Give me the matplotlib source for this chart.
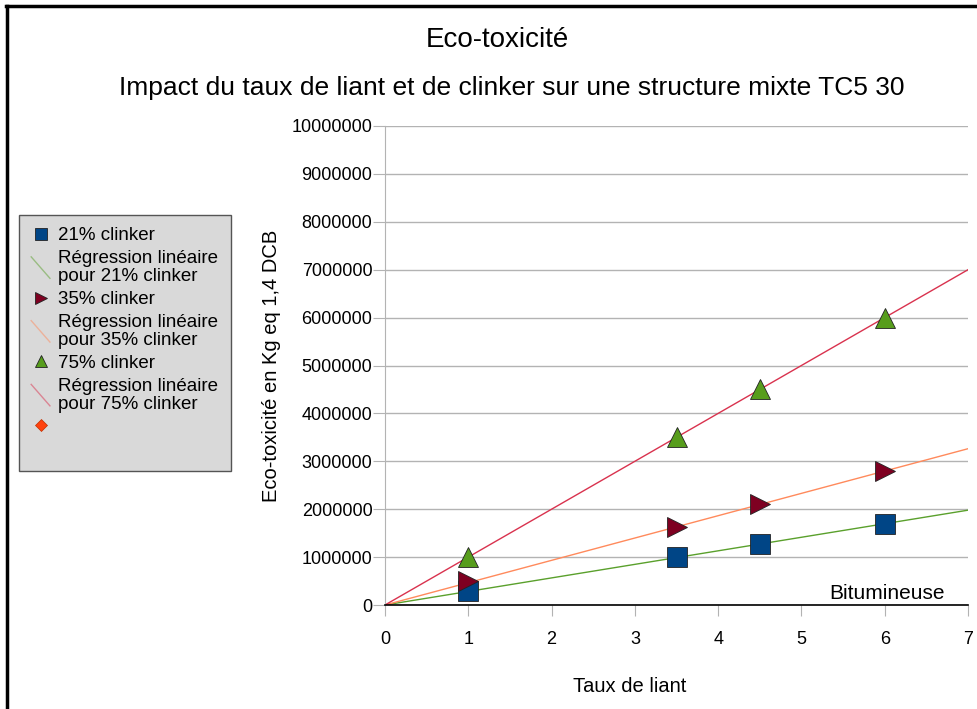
import numpy as np
import matplotlib
matplotlib.use("Agg")
import matplotlib.pyplot as plt
from matplotlib.lines import Line2D
from matplotlib.legend_handler import HandlerBase

plt.rcParams['font.family'] = ['Liberation Sans', 'DejaVu Sans']

# Data
taux_liant = [1, 3.5, 4.5, 6]
clinker_21 = [300000, 1000000, 1270000, 1690000]
clinker_35 = [500000, 1630000, 2100000, 2790000]
clinker_75 = [1000000, 3500000, 4500000, 6000000]
x_ticks = [0, 1, 2, 3, 4, 5, 6, 7]
y_ticks = [0, 1000000, 2000000, 3000000, 4000000, 5000000,
           6000000, 7000000, 8000000, 9000000, 10000000]


# Linear regression forced through the origin
def slope_origin(x, y):
    x = np.asarray(x, float)
    y = np.asarray(y, float)
    return np.sum(x * y) / np.sum(x * x)


# Legend icon: a short diagonal line like the original
class DiagHandler(HandlerBase):
    def create_artists(self, legend, orig_handle, xdescent, ydescent,
                       width, height, fontsize, trans):
        ln = Line2D([-xdescent, width - xdescent],
                    [height - ydescent + 3, -ydescent - 3],
                    color=orig_handle.get_color(), lw=1, alpha=0.5,
                    transform=trans)
        return [ln]


fig = plt.figure(figsize=(9.78, 7.09), dpi=100)
ax = fig.add_axes([385 / 978, 1 - 605 / 709, 583 / 978, 479 / 709])

xs = np.array([0, 7])
series = [
    ("21% clinker", clinker_21, 's', '#004586', '#5aa02c'),
    ("35% clinker", clinker_35, '>', '#7e0021', '#ff8a5c'),
    ("75% clinker", clinker_75, '^', '#579d1c', '#d9324e'),
]

handles = []
labels = []
for name, vals, mk, mcol, lcol in series:
    k = slope_origin(taux_liant, vals)
    reg, = ax.plot(xs, k * xs, color=lcol, lw=1, zorder=2)
    pts, = ax.plot(taux_liant, vals, linestyle='none', marker=mk,
                   markersize=14, markerfacecolor=mcol,
                   markeredgecolor='#222222', markeredgewidth=0.6, zorder=3)
    handles += [pts, reg]
    labels += [name, "Régression linéaire\npour " + name]

# empty "Bitumineuse" series (orange diamond in the legend)
bit, = ax.plot([], [], linestyle='none', marker='D', markersize=10,
               markerfacecolor='#ff420e', markeredgecolor='#c03000',
               markeredgewidth=0.5)
blank, = ax.plot([], [], linestyle='none', marker='')
handles += [bit, blank]
labels += ["", ""]

ax.set_xlim(0, 7)
ax.set_ylim(0, 10000000)
ax.set_xticks(x_ticks)
ax.set_yticks(y_ticks)
ax.set_yticklabels([str(v) for v in y_ticks])
ax.yaxis.grid(True, color='#b3b3b3', lw=1)
ax.set_axisbelow(True)
for s in ['top', 'right']:
    ax.spines[s].set_visible(False)
ax.spines['left'].set_color('#b3b3b3')
ax.spines['bottom'].set_color('black')
ax.spines['bottom'].set_linewidth(1.2)
ax.tick_params(axis='y', length=9, color='#b3b3b3', labelsize=13, pad=0)
ax.tick_params(axis='x', length=8, color='#b3b3b3', labelsize=13, pad=11)

ax.set_xlabel("Taux de liant", fontsize=14.5)
ax.xaxis.set_label_coords((630 - 385) / 583, (605 - 677) / 479)
ax.set_ylabel("Eco-toxicité en Kg eq 1,4 DCB", fontsize=14.5, va='center')
ax.yaxis.set_label_coords((272 - 385) / 583, 0.5)

ax.text(6.72, 250000, "Bitumineuse", ha='right', va='center', fontsize=15)

fig.text(497 / 978, 1 - 40 / 709, "Eco-toxicité", ha='center', va='center',
         fontsize=20)
fig.text(512 / 978, 1 - 88 / 709,
         "Impact du taux de liant et de clinker sur une structure mixte TC5 30",
         ha='center', va='center', fontsize=19)

hmap = {h: DiagHandler() for h in handles[1:6:2]}
leg = fig.legend(handles, labels, loc='upper left',
                 bbox_to_anchor=(19 / 978, 1 - 215 / 709),
                 bbox_transform=fig.transFigure, borderaxespad=0,
                 fontsize=13.5, frameon=True, fancybox=False,
                 facecolor='#d9d9d9', edgecolor='#555555', framealpha=1,
                 handlelength=1.0, handletextpad=0.45, labelspacing=0.32,
                 borderpad=0.65, markerscale=0.6, handler_map=hmap)
leg.get_frame().set_linewidth(1)
for t in leg.get_texts():
    t.set_linespacing(1.05)

# frame around the picture (left and top edges)
fig.add_artist(Line2D([7 / 978, 7 / 978], [0, 1 - 6 / 709], color='black',
                      lw=2.5, transform=fig.transFigure))
fig.add_artist(Line2D([6 / 978, 1], [1 - 6 / 709, 1 - 6 / 709], color='black',
                      lw=2.5, transform=fig.transFigure))

fig.savefig("out.png", dpi=100)
